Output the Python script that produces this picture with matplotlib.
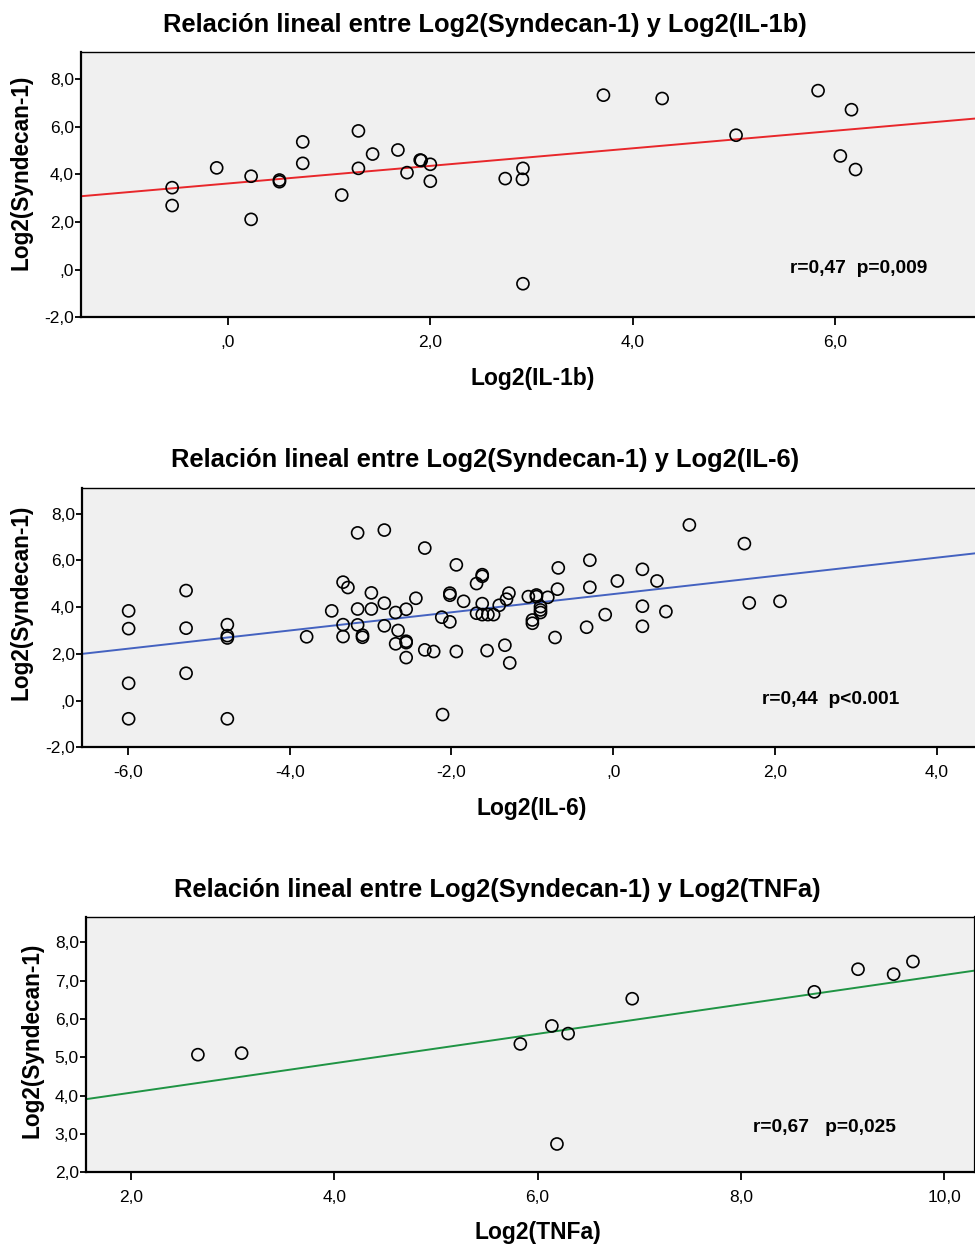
import matplotlib
matplotlib.use("Agg")
import matplotlib.pyplot as plt
from matplotlib.ticker import FuncFormatter
import numpy as np

plt.rcParams['font.family'] = ['Liberation Sans', 'DejaVu Sans']

# --- datos ---
il1b_x = [-0.55, -0.55, -0.11, 0.23, 0.23, 0.51, 0.51, 0.74, 0.74, 1.125,
          1.29, 1.29, 1.43, 1.68, 1.77, 1.90, 1.91, 2.00, 2.00, 2.74,
          2.915, 2.91, 2.915, 3.71, 4.29, 5.02, 5.83, 6.16, 6.05, 6.20]
il1b_y = [3.44, 2.69, 4.27, 3.92, 2.11, 3.76, 3.69, 5.36, 4.46, 3.13,
          5.82, 4.25, 4.85, 5.02, 4.07, 4.60, 4.58, 4.42, 3.71, 3.82,
          4.25, 3.79, -0.59, 7.32, 7.18, 5.64, 7.51, 6.71, 4.77, 4.20]

il6_x = [-5.99, -5.99, -5.99, -5.99, -5.28, -5.28, -5.28, -4.77, -4.77, -4.77,
         -4.77, -3.79, -3.48, -3.34, -3.28, -3.34, -3.34, -3.16, -3.16, -3.16,
         -3.10, -3.10, -2.99, -2.99, -2.83, -2.83, -2.83, -2.69, -2.66, -2.69,
         -2.56, -2.56, -2.56, -2.56, -2.44, -2.33, -2.33, -2.22, -2.12, -2.11,
         -2.02, -2.02, -2.02, -1.94, -1.94, -1.85, -1.69, -1.62, -1.62, -1.62,
         -1.69, -1.62, -1.55, -1.48, -1.56, -1.41, -1.34, -1.32, -1.29, -1.28,
         -1.05, -0.95, -0.95, -1.00, -1.00, -0.90, -0.90, -0.90, -0.81, -0.72,
         -0.69, -0.68, -0.33, -0.29, -0.29, -0.10, 0.05, 0.36, 0.36, 0.36,
         0.54, 0.65, 0.94, 1.62, 1.68, 2.06]
il6_y = [3.84, 3.08, 0.74, -0.78, 4.71, 3.10, 1.17, 3.25, 2.78, 2.68,
         -0.78, 2.73, 3.84, 5.07, 4.84, 3.25, 2.74, 7.18, 3.92, 3.24,
         2.80, 2.71, 4.61, 3.92, 7.30, 4.17, 3.20, 3.77, 3.00, 2.43,
         3.91, 2.54, 2.48, 1.84, 4.38, 6.53, 2.17, 2.10, 3.57, -0.60,
         4.60, 4.51, 3.37, 5.81, 2.10, 4.25, 5.01, 5.39, 5.32, 4.15,
         3.74, 3.68, 3.68, 3.68, 2.14, 4.08, 2.37, 4.34, 4.60, 1.61,
         4.45, 4.52, 4.45, 3.45, 3.31, 4.02, 3.88, 3.77, 4.42, 2.70,
         4.77, 5.68, 3.14, 6.01, 4.85, 3.68, 5.12, 5.62, 4.04, 3.18,
         5.12, 3.81, 7.52, 6.72, 4.18, 4.25]

tnfa_x = [2.66, 3.09, 5.83, 6.14, 6.30, 6.19, 6.93, 8.72, 9.15, 9.50, 9.69]
tnfa_y = [5.07, 5.11, 5.35, 5.82, 5.62, 2.74, 6.53, 6.71, 7.30, 7.17, 7.50]

# recta de ajuste (intercepto, pendiente)
fit_il1b = (3.615, 0.369)
fit_il6 = (4.56, 0.390)
fit_tnfa = (3.31, 0.384)

titulos = ["Relación lineal entre Log2(Syndecan-1) y Log2(IL-1b)",
           "Relación lineal entre Log2(Syndecan-1) y Log2(IL-6)",
           "Relación lineal entre Log2(Syndecan-1) y Log2(TNFa)"]
xlabels = ["Log2(IL-1b)", "Log2(IL-6)", "Log2(TNFa)"]
stats = ["r=0,47  p=0,009", "r=0,44  p<0.001", "r=0,67   p=0,025"]


def coma(v, pos):
    s = "%.1f" % v
    s = s.replace(".", ",")
    if s.startswith("0,"):
        s = s[1:]
    if s == "-0,0":
        s = ",0"
    return s


W, H = 975.0, 1244.0
fig = plt.figure(figsize=(9.75, 12.44), dpi=100)

# posiciones en pixeles del original (y desde arriba)
paneles = [
    dict(rect=[0.0831, 0.7449, 0.9169, 0.2131], x=il1b_x, y=il1b_y, fit=fit_il1b,
         color="#e8272b", xlim=(-1.45, 7.38), ylim=(-2, 9.12),
         xt=[0, 2, 4, 6], yt=[-2, 0, 2, 4, 6, 8], stat=(790, 268),
         title=(485, 25), xl=(533, 378), yl=(21, 172), right=False),
    dict(rect=[0.0838, 0.3993, 0.9162, 0.2082], x=il6_x, y=il6_y, fit=fit_il6,
         color="#4462c0", xlim=(-6.57, 4.47), ylim=(-2, 9.09),
         xt=[-6, -4, -2, 0, 2, 4], yt=[-2, 0, 2, 4, 6, 8], stat=(762, 700),
         title=(485, 460), xl=(532, 808), yl=(21, 602), right=False),
    dict(rect=[0.0879, 0.0576, 0.9121, 0.2055], x=tnfa_x, y=tnfa_y, fit=fit_tnfa,
         color="#1f9444", xlim=(1.557, 10.30), ylim=(2.0, 8.67),
         xt=[2, 4, 6, 8, 10], yt=[2, 3, 4, 5, 6, 7, 8], stat=(753, 1127),
         title=(497, 890), xl=(538, 1232), yl=(32, 1040), right=True),
]

for i, p in enumerate(paneles):
    ax = fig.add_axes(p["rect"])
    ax.set_facecolor("#f0f0f0")
    ax.scatter(p["x"], p["y"], s=75, facecolors="none", edgecolors="black",
               linewidths=1.2, zorder=3)
    b0, b1 = p["fit"]
    xx = np.array(p["xlim"])
    ax.plot(xx, b0 + b1 * xx, color=p["color"], lw=1.4, zorder=2)
    ax.set_xlim(*p["xlim"])
    ax.set_ylim(*p["ylim"])
    ax.set_xticks(p["xt"])
    ax.set_yticks(p["yt"])
    ax.xaxis.set_major_formatter(FuncFormatter(coma))
    ax.yaxis.set_major_formatter(FuncFormatter(coma))
    ax.tick_params(axis="x", direction="out", length=6, width=1.3, labelsize=12.5, pad=7)
    ax.tick_params(axis="y", direction="out", length=4, width=1.3, labelsize=12.5, pad=1)
    for sp in ["left", "bottom"]:
        ax.spines[sp].set_linewidth(1.6)
    ax.spines["top"].set_linewidth(1.0)
    if p["right"]:
        ax.spines["right"].set_linewidth(1.6)
    else:
        ax.spines["right"].set_visible(False)
    fig.text(p["stat"][0] / W, 1 - p["stat"][1] / H, stats[i],
             fontsize=13.8, fontweight="bold", ha="left", va="center")
    fig.text(p["title"][0] / W, 1 - p["title"][1] / H, titulos[i], ha="center", va="center",
             fontsize=18.4, fontweight="bold")
    fig.text(p["xl"][0] / W, 1 - p["xl"][1] / H, xlabels[i], ha="center", va="center",
             fontsize=16.5, fontweight="bold")
    fig.text(p["yl"][0] / W, 1 - p["yl"][1] / H, "Log2(Syndecan-1)", rotation=90,
             ha="center", va="center", fontsize=16.3, fontweight="bold")

fig.savefig("out.png", dpi=100)
